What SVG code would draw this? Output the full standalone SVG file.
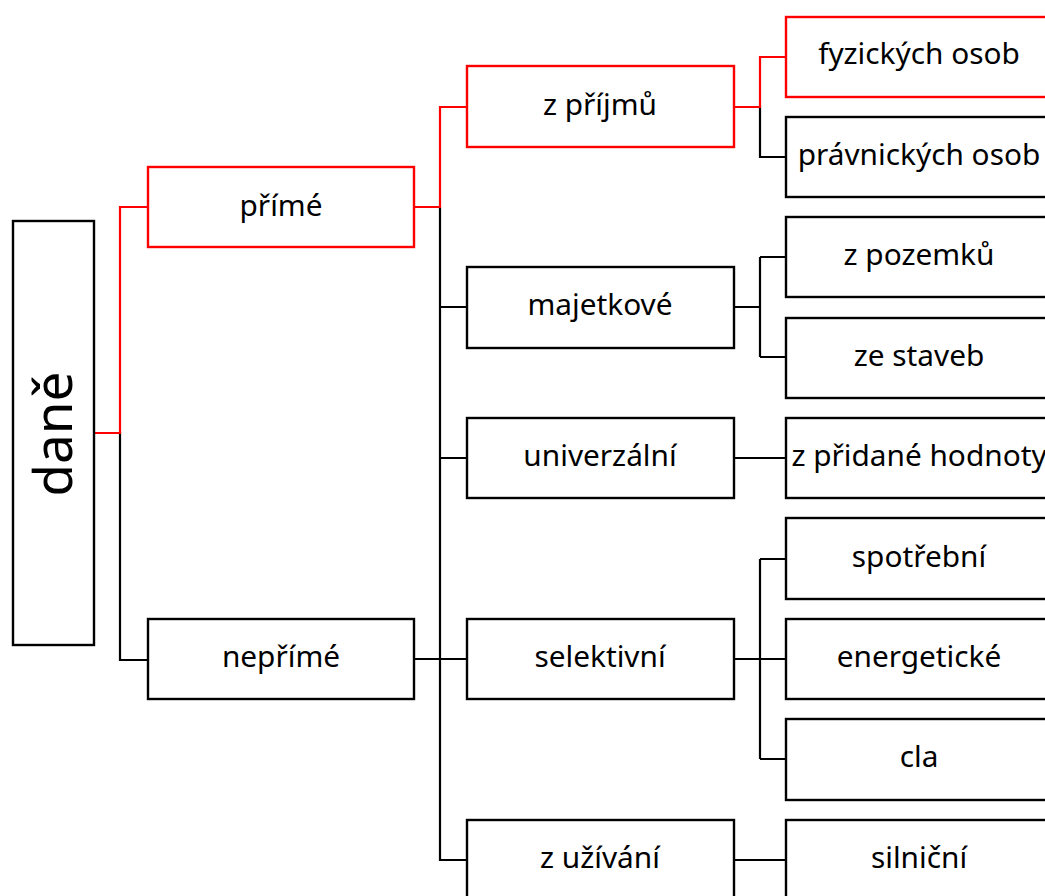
<svg xmlns="http://www.w3.org/2000/svg" width="1045" height="896" viewBox="0 0 1045 896">
<style>
.box{fill:#fff;stroke:#000;stroke-width:2.4}
.red{stroke:#ff0000}
.lbl{font-family:"Noto Sans","Open Sans",sans-serif;font-size:29.8px;fill:#000;text-anchor:middle}
.con{fill:none;stroke:#000;stroke-width:2.2}
.conr{fill:none;stroke:#ff0000;stroke-width:2.2}
</style>
<rect width="1045" height="896" fill="#fff"/>
<g id="connectors">
<path class="con" d="M94,433 H120 V660 H148"/>
<path class="con" d="M440,207 V860 H467 M440,307 H467 M440,458 H467 M414,659 H467"/>
<path class="con" d="M734,107 H760 V157 H786"/>
<path class="con" d="M734,307 H760 M760,257 V357 M760,257 H786 M760,357 H786"/>
<path class="con" d="M734,458 H786"/>
<path class="con" d="M734,659 H786 M760,559 V759 M760,559 H786 M760,759 H786"/>
<path class="con" d="M734,860 H786"/>
<path class="conr" d="M94,433 H120 V207 H148"/>
<path class="conr" d="M414,207 H440 V107 H467"/>
<path class="conr" d="M734,107 H760 V57 H786"/>
</g>
<g id="node-dane"><rect class="box" x="13" y="221" width="81" height="424"/><text class="lbl" style="font-size:53px" transform="translate(72,434) rotate(-90)">daně</text></g>
<g id="node-prime"><rect class="box red" x="148" y="167" width="266" height="80"/><text class="lbl" x="281" y="216">přímé</text></g>
<g id="node-neprime"><rect class="box" x="148" y="619" width="266" height="80"/><text class="lbl" x="281" y="667">nepřímé</text></g>
<g id="node-zprijmu"><rect class="box red" x="467" y="66" width="267" height="81"/><text class="lbl" x="600" y="115">z příjmů</text></g>
<g id="node-majetkove"><rect class="box" x="467" y="267" width="267" height="81"/><text class="lbl" x="600" y="315">majetkové</text></g>
<g id="node-univerzalni"><rect class="box" x="467" y="418" width="267" height="80"/><text class="lbl" x="600" y="466">univerzální</text></g>
<g id="node-selektivni"><rect class="box" x="467" y="619" width="267" height="80"/><text class="lbl" x="600" y="667">selektivní</text></g>
<g id="node-zuzivani"><rect class="box" x="467" y="820" width="267" height="80"/><text class="lbl" x="600" y="868">z užívání</text></g>
<g id="node-fyzickych"><rect class="box red" x="786" y="17" width="266" height="80"/><text class="lbl" x="919" y="64">fyzických osob</text></g>
<g id="node-pravnickych"><rect class="box" x="786" y="117" width="266" height="80"/><text class="lbl" x="919" y="165">právnických osob</text></g>
<g id="node-zpozemku"><rect class="box" x="786" y="217" width="266" height="80"/><text class="lbl" x="919" y="265">z pozemků</text></g>
<g id="node-zestaveb"><rect class="box" x="786" y="318" width="266" height="80"/><text class="lbl" x="919" y="366">ze staveb</text></g>
<g id="node-zpridane"><rect class="box" x="786" y="418" width="266" height="80"/><text class="lbl" x="919" y="466">z přidané hodnoty</text></g>
<g id="node-spotrebni"><rect class="box" x="786" y="518" width="266" height="81"/><text class="lbl" x="919" y="567">spotřební</text></g>
<g id="node-energeticke"><rect class="box" x="786" y="619" width="266" height="80"/><text class="lbl" x="919" y="667">energetické</text></g>
<g id="node-cla"><rect class="box" x="786" y="719" width="266" height="81"/><text class="lbl" x="919" y="767">cla</text></g>
<g id="node-silnicni"><rect class="box" x="786" y="820" width="266" height="80"/><text class="lbl" x="919" y="868">silniční</text></g>
</svg>
